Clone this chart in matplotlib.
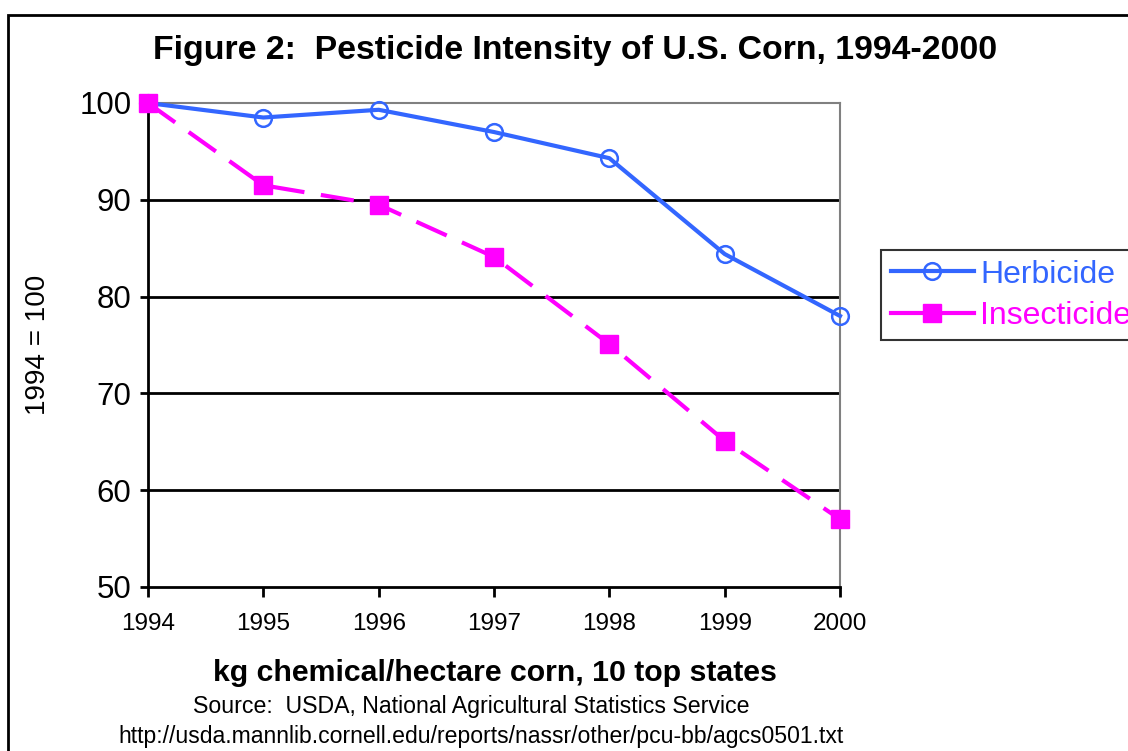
import matplotlib
matplotlib.use("Agg")
import matplotlib.pyplot as plt
from matplotlib.patches import Rectangle

plt.rcParams['font.family'] = ['Liberation Sans', 'DejaVu Sans']

years = [1994, 1995, 1996, 1997, 1998, 1999, 2000]
herbicide = [100, 98.5, 99.3, 97.0, 94.3, 84.4, 78.0]
insecticide = [100, 91.5, 89.5, 84.1, 75.1, 65.1, 57.0]
y_ticks = [50, 60, 70, 80, 90, 100]

blue = '#3366FF'
magenta = '#FF00FF'

fig = plt.figure(figsize=(11.28, 7.51), dpi=100)
ax = fig.add_axes([148/1128, 1-587/751, (840-148)/1128, (587-103)/751])

# outer chart frame
fig.patches.append(Rectangle((8/1128, -0.1), 1.2, 1-15/751+0.1, transform=fig.transFigure,
                             fill=False, edgecolor='black', linewidth=2, clip_on=False))

for v in y_ticks[1:-1]:
    ax.axhline(v, color='black', linewidth=2, zorder=1)

ax.plot(years, herbicide, color=blue, linewidth=3, marker='o', markersize=12,
        markerfacecolor='none', markeredgecolor=blue, markeredgewidth=1.8, label='Herbicide',
        clip_on=False, zorder=3)
ax.plot(years, insecticide, color=magenta, linewidth=3, dashes=(8, 4), marker='s',
        markersize=13, markerfacecolor=magenta, markeredgecolor=magenta, label='Insecticide',
        clip_on=False, zorder=4)

ax.set_xlim(1994, 2000)
ax.set_ylim(50, 100)
ax.set_xticks(years)
ax.set_yticks(y_ticks)
ax.tick_params(axis='y', labelsize=22.5, direction='out', length=6, width=2, pad=6)
ax.tick_params(axis='x', labelsize=17.5, direction='out', length=7, width=2, pad=12)

ax.spines['left'].set_linewidth(2)
ax.spines['bottom'].set_linewidth(2)
ax.spines['top'].set_color('#808080')
ax.spines['right'].set_color('#808080')
ax.spines['top'].set_linewidth(1.5)
ax.spines['right'].set_linewidth(1.5)

ax.set_ylabel('1994 = 100', fontsize=20, labelpad=20)

fig.text(575/1128, 1-50/751, 'Figure 2:  Pesticide Intensity of U.S. Corn, 1994-2000',
         fontsize=24.4, fontweight='bold', ha='center', va='center')
fig.text(495/1128, 1-673/751, 'kg chemical/hectare corn, 10 top states',
         fontsize=21.8, fontweight='bold', ha='center', va='center')
fig.text(471/1128, 1-707/751, 'Source:  USDA, National Agricultural Statistics Service',
         fontsize=16.7, ha='center', va='center')
fig.text(481/1128, 1-737/751, 'http://usda.mannlib.cornell.edu/reports/nassr/other/pcu-bb/agcs0501.txt',
         fontsize=16.6, ha='center', va='center')

leg = fig.legend(loc='upper left', bbox_to_anchor=(881/1128, 1-250/751), fontsize=23,
                 frameon=True, fancybox=False, edgecolor='black', handlelength=2.6,
                 handletextpad=0.2, borderpad=0.3, labelspacing=0.35, borderaxespad=0)
leg.get_frame().set_linewidth(1.5)
for text, c in zip(leg.get_texts(), [blue, magenta]):
    text.set_color(c)
leg.get_lines()[1].set_linestyle('-')

fig.savefig('out.png', dpi=100)
